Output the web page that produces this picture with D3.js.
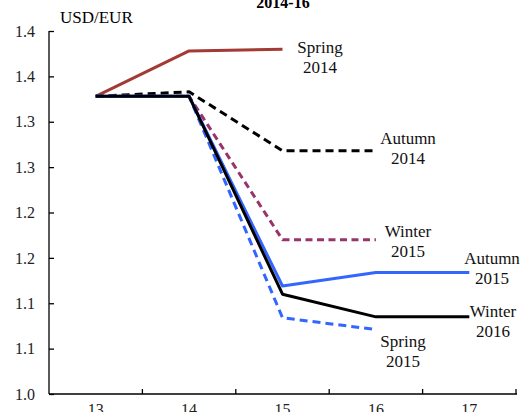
<!DOCTYPE html>
<head>
  <meta charset="utf-8">
  <title>USD/EUR forecasts 2014-16</title>
  <script src="https://d3js.org/d3.v7.min.js"></script>
  <style>
    body { margin: 0; background: #fff; }
    svg { display: block; }
    svg text { font-family: "Liberation Serif", "Times New Roman", Times, "DejaVu Serif", serif; }
    .axis path, .axis line { stroke: #000; stroke-width: 1.3px; }
    .axis text { font-size: 16px; fill: #222; }
    .lbl { font-size: 17px; fill: #111; text-anchor: middle; }
    .series { fill: none; stroke-width: 3px; stroke-linejoin: round; }
  </style>
</head>
<body>
  <script>
    var width = 520, height = 412;
    var margin = {top: 31, right: 4, bottom: 18, left: 49};

    // data
    var years = ["13", "14", "15", "16", "17"];
    var yTicks = [1.00, 1.05, 1.10, 1.15, 1.20, 1.25, 1.30, 1.35, 1.40];
    var yTickLabels = ["1.0", "1.1", "1.1", "1.2", "1.2", "1.3", "1.3", "1.4", "1.4"];

    var spring2014 = [1.328, 1.378, 1.380];
    var autumn2014 = [1.328, 1.333, 1.268, 1.268];
    var winter2015 = [1.328, 1.328, 1.170, 1.170];
    var autumn2015 = [1.328, 1.328, 1.119, 1.134, 1.134];
    var winter2016 = [1.328, 1.328, 1.110, 1.085, 1.085];
    var spring2015 = [1.328, 1.328, 1.084, 1.071];

    var series = [
      {name: ["Spring", "2014"], values: spring2014, color: "#a33a35", dash: null, lx: 320, ly: 53},
      {name: ["Autumn", "2014"], values: autumn2014, color: "#000000", dash: "8,5", lx: 408, ly: 144},
      {name: ["Winter", "2015"], values: winter2015, color: "#99336b", dash: "7,4.5", lx: 408, ly: 237},
      {name: ["Autumn", "2015"], values: autumn2015, color: "#3366ff", dash: null, lx: 492, ly: 264},
      {name: ["Spring", "2015"], values: spring2015, color: "#3366ff", dash: "8,5", lx: 403, ly: 347},
      {name: ["Winter", "2016"], values: winter2016, color: "#000000", dash: null, lx: 493, ly: 317}
    ];

    var svg = d3.select("body").append("svg")
      .attr("width", width)
      .attr("height", height);

    var x = d3.scaleBand()
      .domain(years)
      .range([margin.left, 516]);

    var y = d3.scaleLinear()
      .domain([1.0, 1.4])
      .range([394, margin.top]);

    // title (cut off at top)
    svg.append("text")
      .attr("x", 283)
      .attr("y", 8)
      .attr("text-anchor", "middle")
      .style("font-size", "16px")
      .style("font-weight", "bold")
      .text("2014-16");

    svg.append("text")
      .attr("x", 60)
      .attr("y", 23)
      .style("font-size", "17px")
      .text("USD/EUR");

    // y axis
    var yAxis = svg.append("g")
      .attr("class", "axis")
      .attr("transform", "translate(" + margin.left + ",0)")
      .call(d3.axisLeft(y)
        .tickValues(yTicks)
        .tickSize(-5)
        .tickPadding(14)
        .tickFormat((d, i) => yTickLabels[i]));
    yAxis.attr("font-family", null);
    yAxis.select(".domain").attr("d", "M0," + y(1.4) + "V" + y(1.0));

    // x axis, ticks at band boundaries
    var xAxis = svg.append("g")
      .attr("class", "axis")
      .attr("transform", "translate(0,394)")
      .call(d3.axisBottom(x).tickSize(0).tickPadding(10));
    xAxis.attr("font-family", null);
    xAxis.select(".domain").attr("d", "M" + margin.left + ",0H" + (x.range()[1] + 1));
    xAxis.selectAll(".bound")
      .data(years)
      .enter().append("line")
        .attr("class", "bound")
        .attr("x1", d => x(d) + x.bandwidth())
        .attr("x2", d => x(d) + x.bandwidth())
        .attr("y1", 0)
        .attr("y2", -5);

    var line = d3.line()
      .x((d, i) => x(years[i]) + x.bandwidth() / 2)
      .y(d => y(d));

    svg.append("g").selectAll("path")
      .data(series)
      .enter().append("path")
        .attr("class", "series")
        .attr("stroke", d => d.color)
        .attr("stroke-dasharray", d => d.dash)
        .attr("d", d => line(d.values));

    var labels = svg.append("g").selectAll("text")
      .data(series)
      .enter().append("text")
        .attr("class", "lbl")
        .attr("x", d => d.lx)
        .attr("y", d => d.ly);
    labels.append("tspan")
      .attr("x", d => d.lx)
      .text(d => d.name[0]);
    labels.append("tspan")
      .attr("x", d => d.lx)
      .attr("dy", 20)
      .text(d => d.name[1]);
  </script>
</body>
